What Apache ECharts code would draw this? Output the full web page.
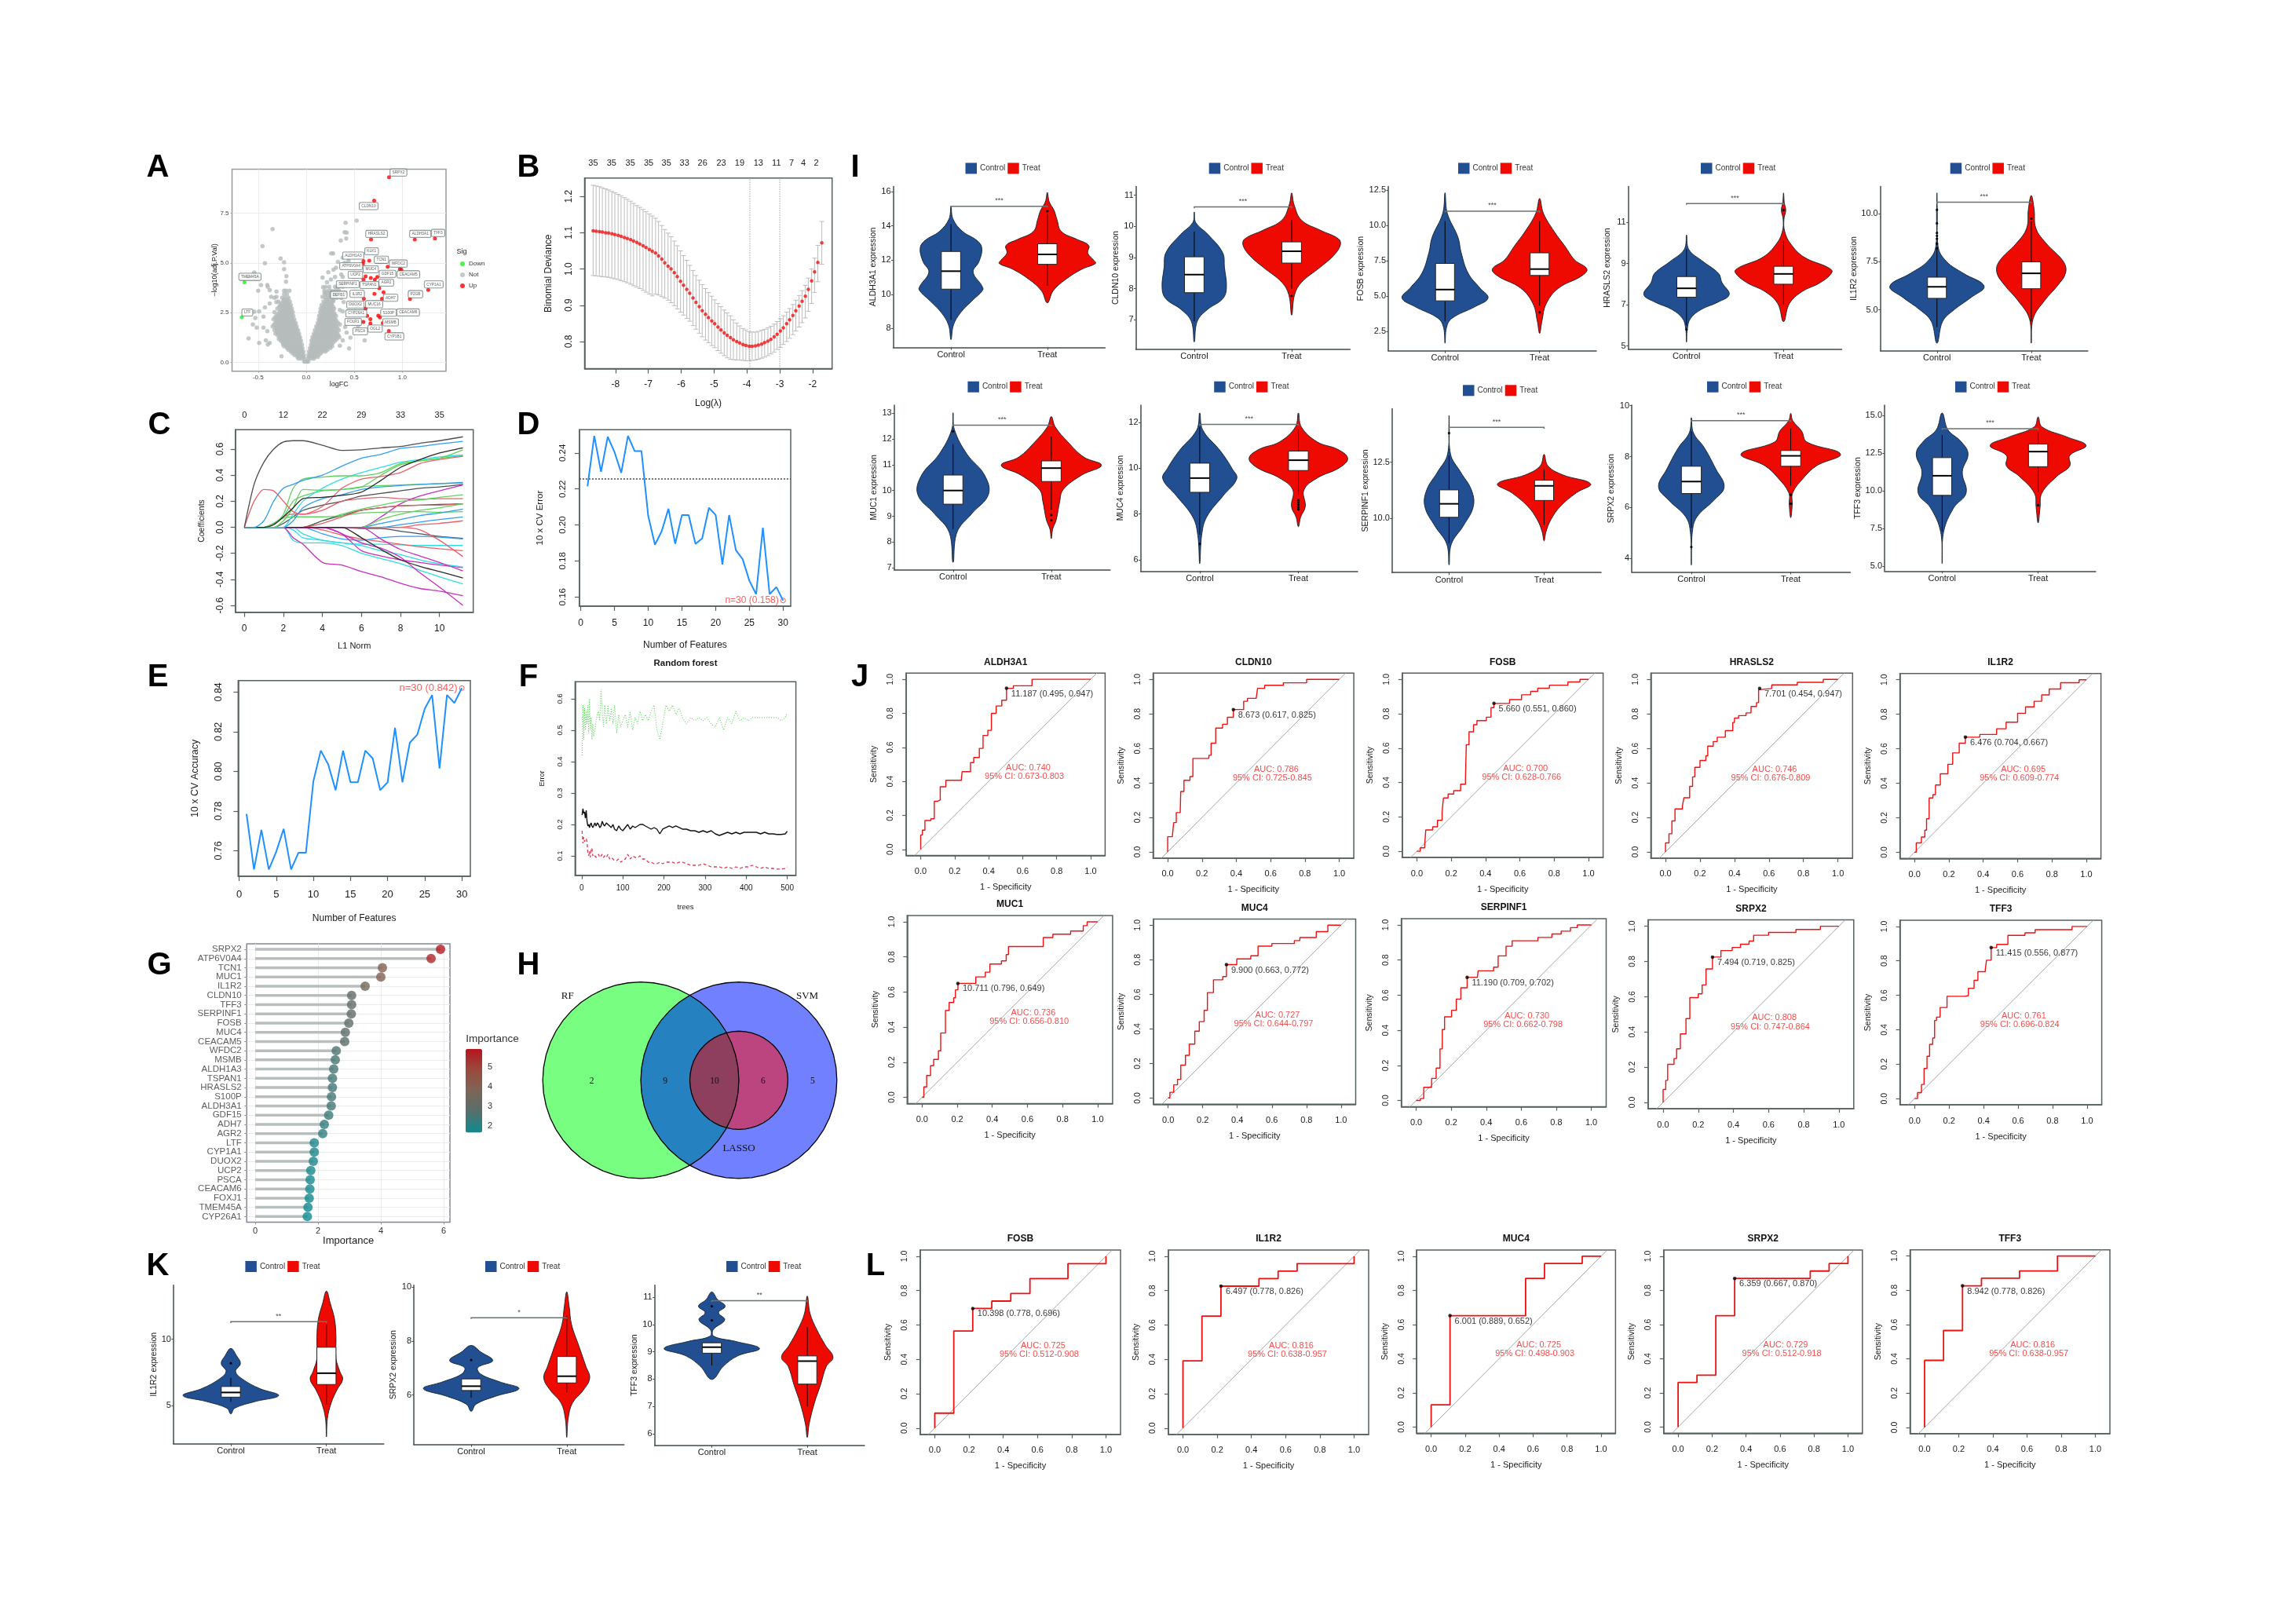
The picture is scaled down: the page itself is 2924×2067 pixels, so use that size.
<!DOCTYPE html>
<html><head><meta charset="utf-8">
<style>html,body{margin:0;padding:0;background:#fff}#c{width:2924px;height:2067px}</style>
<script src="https://cdn.jsdelivr.net/npm/echarts@6/dist/echarts.min.js"></script>
</head><body><div id="c"></div>
<script>
/* ===== DATA: volcano (A) ===== */
const volcanoRowY=[0.04,0.18,0.36,0.54,0.72,0.9,1.08,1.26,1.44,1.62,1.8,1.98,2.16,2.34,2.52,2.7,2.88,3.06,3.24,3.42,3.6,3.8];
const volcanoLeftX=[[-.01,-.02],[-.02,-.05,-.08],[-.025,-.06,-.09,-.12],[-.03,-.065,-.1,-.13,-.16],[-.04,-.075,-.11,-.14,-.17,-.2],[-.045,-.08,-.115,-.15,-.185,-.22,-.24],[-.055,-.09,-.125,-.16,-.195,-.23,-.265],[-.065,-.1,-.135,-.17,-.205,-.24,-.275],[-.075,-.11,-.145,-.18,-.215,-.25,-.285,-.32],[-.085,-.12,-.155,-.19,-.225,-.26,-.295,-.33],[-.1,-.135,-.17,-.205,-.24,-.275,-.31,-.35],[-.11,-.145,-.18,-.215,-.25,-.285,-.32],[-.125,-.16,-.195,-.23,-.265,-.3,-.34],[-.135,-.17,-.205,-.24,-.275,-.31],[-.14,-.175,-.21,-.245,-.28,-.33],[-.15,-.185,-.22,-.255,-.3],[-.16,-.195,-.23,-.27],[-.17,-.205,-.24,-.29],[-.185,-.22,-.25,-.33],[-.2,-.23],[-.21,-.23],[]];
const volcanoRightX=[[.01,.02],[.02,.05,.08],[.025,.06,.095,.13],[.03,.065,.1,.135,.17,.2],[.04,.075,.11,.145,.18,.215,.25],[.05,.085,.12,.155,.19,.225,.26],[.055,.09,.125,.16,.195,.23,.265,.3],[.065,.1,.135,.17,.205,.24,.275,.31,.345],[.08,.115,.15,.185,.22,.255,.29,.325],[.09,.125,.16,.195,.23,.265,.3,.34],[.105,.14,.175,.21,.245,.28,.315],[.12,.155,.19,.225,.26,.295,.33],[.13,.165,.2,.235,.27,.305],[.135,.17,.205,.24,.275,.31],[.145,.18,.215,.25,.285],[.15,.185,.22,.255,.29],[.16,.195,.23,.265],[.18,.215,.25,.28],[.2,.235,.27,.32],[.2,.24,.27,.31],[.19,.23,.26,.3,.34],[.2,.24,.3,.34,.38]];
const volcanoMidY=[.27,.45,.63,.81,.99,1.17,1.35,1.53,1.71,1.89,2.07,2.25,2.43,2.61,2.79,2.97,3.15,3.33,3.51];
const volcanoMidLeftX=[[-.03,-.06,-.09],[-.04,-.075,-.11,-.14],[-.05,-.085,-.12,-.155,-.185],[-.06,-.095,-.13,-.165,-.2,-.23],[-.07,-.105,-.14,-.175,-.21,-.245],[-.07,-.11,-.145,-.18,-.215,-.25,-.285],[-.08,-.12,-.155,-.19,-.225,-.26,-.295],[-.095,-.13,-.165,-.2,-.235,-.27,-.305],[-.105,-.14,-.175,-.21,-.245,-.28,-.315],[-.12,-.155,-.19,-.225,-.26,-.295,-.335],[-.135,-.17,-.205,-.24,-.275,-.31],[-.15,-.185,-.22,-.255,-.29,-.325],[-.155,-.19,-.225,-.26,-.295],[-.16,-.195,-.23,-.265],[-.17,-.205,-.24,-.28],[-.185,-.22,-.26],[-.195,-.23],[],[]];
const volcanoMidRightX=[[.03,.06,.09,.12],[.04,.08,.115,.15],[.05,.085,.12,.155,.19,.22],[.06,.095,.13,.165,.2,.235,.27],[.07,.105,.14,.175,.21,.245,.28],[.075,.11,.145,.18,.215,.25,.285,.32],[.09,.125,.16,.195,.23,.265,.3,.335],[.105,.14,.175,.21,.245,.28,.315],[.115,.15,.185,.22,.255,.29,.325],[.13,.165,.2,.235,.27,.305],[.14,.175,.21,.245,.28,.315],[.15,.185,.22,.255,.29],[.155,.19,.225,.26,.295],[.165,.2,.235,.27],[.175,.21,.245,.28],[.195,.23,.265],[.21,.245,.285],[.22,.255,.295],[.215,.25,.285,.325]];
const volcanoSparse=[[-.405,3.89],[-.38,3.63],[-.31,3.56],[-.175,3.6],[-.365,3.29],[-.31,3.29],[-.38,2.96],[-.31,3.03],[-.43,2.76],[-.49,2.56],[-.54,2.54],[-.53,2.23],[-.445,2.3],[-.555,1.9],[-.515,1.74],[-.445,1.74],[-.405,1.57],[-.6,1.2],[-.49,.97],[-.42,1.1],[-.38,.97],[-.4,.9],[-.257,.3],[-.23,5.03],[-.23,4.69],[-.206,4.33],[-.21,4.05],[-.43,4.98],[-.35,6.7],[-.455,5.84],[-.267,5.22],[-.54,4.52],[-.6,4.3],[-.5,4.3],[-.47,3.89],[-.4,3.8],[-.5,3.6],
[.17,3.29],[.19,3.49],[.176,3.78],[.216,4.02],[.257,4.16],[.3,4.29],[.17,4.26],[.23,4.53],[.284,4.66],[.31,4.75],[.365,4.42],[.38,4.29],[.39,3.96],[.324,3.76],[.405,3.49],[.365,3.23],[.39,3.03],[.35,2.63],[.38,2.56],[.35,1.9],[.38,1.1],[.35,.84],[.446,.7],[.608,1.1],[.46,1.24],[.42,1.5],[.405,1.77],[.54,1.83],[.527,2.83],[.48,2.96],[.28,5.48],[.26,5.48],[.38,5.26],[.416,6.23],[.36,6.13],[.4,6.54],[.42,6.52],[.41,7.02],[.525,7.12],[.44,5.1],[.4,5],[.33,5.05]];
const volcanoUpNames=['SRPX2','CLDN10','HRASLS2','ALDH3A1','TFF3','ALDH1A3','KLK1','TCN1','WFDC2','CEACAM5','ATP6V0A4','MUC4','UCP2','GDF15','SERPINF1','TSPAN1','AGR2','CYP1A1','P2GB','IL1R2','ADH7','MUC16','DEFB1','DUOX2','S100P','CEACAM6','CYP26A1','FOLR1','PSCA','OGL2','MSMB','CYP1B1'];
const volcanoUpFC=[.862,.707,.675,1.13,1.34,.596,.656,.848,.975,.99,.59,.672,.618,.74,.596,.714,.76,1.27,1.08,.71,.805,.789,.6,.618,.767,.75,.635,.595,.668,.668,.797,.86];
const volcanoUpP=[9.31,8.13,6.18,6.18,6.23,5.09,5.11,4.8,4.69,4.66,4.95,4.24,4.32,4.29,4.16,4.16,3.73,3.64,3.19,3.44,3.52,3.2,3.2,2.7,2.26,2.35,2.34,2.03,1.95,2.17,1.97,1.58];
const volcanoDownNames=['TMEM45A','LTF'];
const volcanoDownFC=[-.643,-.67];
const volcanoDownP=[4.02,2.27];
/* ===== DATA: LASSO CV (B) ===== */
const lassoLambda=[-8.68,-8.59,-8.49,-8.40,-8.30,-8.21,-8.11,-8.02,-7.92,-7.83,-7.73,-7.64,-7.54,-7.45,-7.35,-7.26,-7.16,-7.07,-6.97,-6.88,-6.78,-6.69,-6.59,-6.50,-6.40,-6.31,-6.21,-6.12,-6.02,-5.93,-5.83,-5.74,-5.64,-5.55,-5.45,-5.36,-5.26,-5.17,-5.07,-4.98,-4.88,-4.79,-4.69,-4.60,-4.50,-4.41,-4.31,-4.22,-4.12,-4.03,-3.93,-3.84,-3.74,-3.65,-3.55,-3.46,-3.36,-3.27,-3.17,-3.08,-2.98,-2.89,-2.79,-2.70,-2.60,-2.51,-2.41,-2.32,-2.22,-2.13,-2.03,-1.94,-1.84,-1.72];
const lassoDev=[1.105,1.104,1.103,1.102,1.100,1.099,1.097,1.095,1.093,1.090,1.087,1.084,1.081,1.077,1.073,1.069,1.064,1.059,1.054,1.049,1.044,1.036,1.027,1.017,1.008,1.000,.990,.979,.966,.955,.944,.933,.920,.908,.896,.885,.875,.866,.857,.849,.840,.832,.824,.817,.811,.805,.800,.796,.792,.789,.787,.787,.788,.790,.793,.797,.801,.806,.813,.820,.829,.838,.849,.860,.872,.885,.898,.911,.925,.944,.967,.992,1.018,1.072];
const lassoHi=[1.231,1.229,1.227,1.224,1.221,1.218,1.214,1.210,1.206,1.202,1.197,1.192,1.187,1.181,1.175,1.170,1.164,1.158,1.152,1.146,1.140,1.131,1.120,1.109,1.099,1.089,1.077,1.064,1.05,1.037,1.024,1.010,.996,.982,.969,.957,.946,.935,.925,.915,.905,.896,.887,.879,.871,.860,.851,.843,.836,.832,.827,.826,.826,.828,.831,.834,.838,.842,.848,.855,.863,.871,.881,.891,.902,.914,.927,.940,.955,.975,1.000,1.030,1.065,1.131];
const lassoLo=[.982,.981,.980,.979,.978,.977,.975,.973,.971,.968,.965,.962,.958,.954,.950,.946,.941,.936,.931,.926,.931,.928,.924,.920,.914,.907,.899,.890,.881,.873,.864,.856,.844,.834,.823,.813,.804,.797,.789,.783,.775,.768,.761,.755,.751,.750,.749,.749,.748,.747,.747,.748,.749,.751,.754,.757,.761,.766,.771,.778,.784,.792,.800,.809,.819,.829,.840,.852,.865,.883,.905,.935,.965,1.013];
const lassoTopPos=[-8.68,-8.12,-7.55,-6.99,-6.45,-5.9,-5.35,-4.78,-4.22,-3.65,-3.1,-2.64,-2.28,-1.89];
const lassoTopLabels=['35','35','35','35','35','33','26','23','19','13','11','7','4','2'];
const lassoVLines=[-3.91,-3];
/* ===== DATA: LASSO paths (C) ===== */
const pathX=[0,.5,1,1.5,2,2.5,3,4,5,6,7,8,9,10,11.2];
const pathK1=[0,.33,.5,.6,.655,.665,.665,.63,.59,.595,.61,.62,.645,.665,.695];
const pathB1=[0,0,.05,.2,.3,.33,.36,.4,.47,.53,.56,.605,.62,.64,.66];
const pathK2=[0,0,0,.02,.08,.15,.22,.23,.245,.27,.36,.46,.52,.57,.61];
const pathR1=[0,.2,.29,.28,.2,.12,.1,.16,.3,.37,.39,.42,.49,.52,.545];
const pathG1=[0,0,0,.02,.1,.3,.37,.385,.395,.395,.42,.49,.51,.53,.595];
const pathG2=[0,0,0,0,.05,.15,.29,.285,.29,.31,.4,.48,.51,.53,.55];
const pathC1=[0,0,0,0,0,.1,.2,.3,.37,.42,.46,.5,.52,.54,.555];
const pathG3=[0,0,0,.03,.08,.2,.24,.28,.29,.31,.32,.325,.33,.335,.34];
const pathB2=[0,0,0,0,0,.05,.15,.22,.25,.29,.31,.32,.33,.335,.345];
const pathK3=[0,0,0,0,.03,.08,.13,.17,.2,.24,.26,.28,.3,.31,.33];
const pathR2=[0,0,0,.03,.08,.1,.1,.13,.2,.22,.23,.22,.215,.22,.22];
const pathM1=[0,0,0,0,0,0,0,0,0,0,.08,.18,.24,.28,.325];
const pathG4=[0,0,0,0,0,0,0,.05,.1,.14,.17,.2,.21,.23,.25];
const pathK4=[0,0,0,0,0,0,0,.05,.09,.13,.15,.165,.17,.175,.18];
const pathG5=[0,0,0,.03,.07,.08,.08,.08,.09,.11,.115,.12,.12,.115,.12];
const pathR3=[0,0,0,0,0,0,0,.03,.08,.13,.15,.165,.17,.17,.18];
const pathB3=[0,0,0,0,0,0,0,0,0,0,.03,.06,.09,.11,.14];
const pathG6=[0,0,0,0,0,0,0,0,0,0,.06,.1,.13,.15,.18];
const pathB4=[0,0,0,0,0,0,0,0,0,0,0,.02,.04,.06,.08];
const pathR4=[0,0,0,0,0,0,0,0,0,0,0,0,.02,.03,.05];
const pathK5=[0,0,0,0,0,0,0,0,0,-.01,-.01,-.03,-.05,-.07,-.085];
const pathB5=[0,0,0,0,0,0,0,-.05,-.09,-.1,-.08,-.07,-.07,-.075,-.09];
const pathC2=[0,0,0,0,0,-.02,-.08,-.1,-.12,-.13,-.13,-.135,-.14,-.14,-.14];
const pathR5=[0,0,0,0,0,0,0,-.02,-.06,-.09,-.11,-.13,-.15,-.165,-.18];
const pathR6=[0,0,0,0,0,0,0,0,0,0,0,0,-.02,-.1,-.225];
const pathK6=[0,0,0,0,0,0,0,0,0,-.08,-.17,-.25,-.3,-.34,-.39];
const pathM2=[0,0,0,0,0,0,0,0,-.05,-.18,-.22,-.25,-.27,-.29,-.31];
const pathC3=[0,0,0,0,0,0,-.05,-.1,-.12,-.14,-.18,-.21,-.25,-.28,-.305];
const pathM3=[0,0,0,0,0,0,0,0,0,0,-.09,-.17,-.22,-.27,-.335];
const pathC4=[0,0,0,0,0,-.1,-.12,-.12,-.14,-.2,-.24,-.28,-.33,-.38,-.435];
const pathM4=[0,0,0,0,0,-.08,-.13,-.27,-.29,-.34,-.38,-.43,-.47,-.49,-.525];
const pathM5=[0,0,0,0,0,0,0,0,-.05,-.12,-.16,-.23,-.35,-.46,-.6];
const pathTopPos=[0,2,4,6,8,10];
const pathTopLabels=['0','12','22','29','33','35'];
/* ===== DATA: RFE-SVM (D, E) ===== */
const nFeatures=[1,2,3,4,5,6,7,8,9,10,11,12,13,14,15,16,17,18,19,20,21,22,23,24,25,26,27,28,29,30];
const cvError=[.2215,.2495,.2295,.249,.2405,.229,.2495,.241,.241,.205,.189,.1965,.209,.1895,.2055,.2055,.1895,.1925,.2095,.2055,.178,.2055,.186,.181,.169,.1615,.1985,.1615,.1655,.158];
const cvErrorCut=.2255;
const cvAccuracy=[.7785,.7505,.7705,.7505,.7595,.771,.7505,.759,.759,.795,.8105,.8035,.7905,.8105,.7945,.7945,.8105,.8065,.7905,.7945,.822,.7945,.8145,.8185,.8315,.8385,.8015,.8385,.8345,.842];
/* ===== DATA: random forest (F) ===== */
const rfTrees=[1,3,5,7,9,11,13,15,17,19,21,23,25,27,29,32,35,38,41,44,47,50,53,56,60,64,68,72,76,80,85,90,95,100,106,112,118,124,130,136,142,148,155,162,169,176,183,190,197,205,213,221,229,237,245,255,265,275,285,295,305,315,325,335,345,355,365,375,385,395,405,415,425,435,445,455,465,475,485,495,500];
const rfOOB=[.23,.25,.235,.24,.22,.245,.21,.195,.2,.19,.2,.205,.195,.19,.195,.205,.195,.205,.2,.19,.195,.21,.2,.195,.205,.2,.195,.19,.2,.185,.18,.195,.185,.18,.19,.2,.185,.195,.19,.195,.2,.2,.195,.19,.185,.19,.185,.17,.185,.19,.195,.19,.195,.19,.185,.185,.18,.18,.175,.18,.175,.18,.17,.165,.17,.175,.17,.175,.17,.175,.175,.175,.175,.17,.175,.17,.17,.168,.168,.17,.178];
const rfTreat=[.18,.14,.16,.145,.15,.155,.145,.11,.1,.115,.095,.12,.125,.1,.105,.1,.095,.1,.105,.095,.1,.105,.095,.1,.095,.105,.09,.095,.09,.085,.085,.09,.08,.085,.09,.105,.09,.1,.095,.095,.1,.09,.09,.08,.08,.075,.075,.08,.075,.08,.08,.08,.075,.08,.08,.075,.07,.07,.07,.075,.07,.065,.065,.065,.06,.065,.06,.065,.06,.065,.065,.07,.065,.06,.065,.06,.06,.058,.058,.06,.065];
const rfControl=[.42,.58,.47,.57,.5,.56,.52,.58,.49,.6,.5,.54,.47,.52,.48,.5,.53,.55,.56,.53,.63,.56,.51,.58,.52,.58,.53,.57,.52,.58,.49,.55,.51,.53,.55,.51,.56,.5,.54,.52,.56,.53,.55,.53,.56,.58,.5,.47,.52,.58,.56,.58,.55,.57,.54,.52,.54,.53,.54,.53,.54,.52,.51,.54,.5,.54,.52,.56,.53,.54,.53,.54,.54,.54,.54,.54,.54,.54,.53,.54,.555];
/* ===== DATA: importance (G) ===== */
const impGenes=['SRPX2','ATP6V0A4','TCN1','MUC1','IL1R2','CLDN10','TFF3','SERPINF1','FOSB','MUC4','CEACAM5','WFDC2','MSMB','ALDH1A3','TSPAN1','HRASLS2','S100P','ALDH3A1','GDF15','ADH7','AGR2','LTF','CYP1A1','DUOX2','UCP2','PSCA','CEACAM6','FOXJ1','TMEM45A','CYP26A1'];
const impValues=[5.9,5.6,4.05,4.0,3.5,3.07,3.07,3.06,2.98,2.87,2.85,2.58,2.55,2.5,2.46,2.46,2.43,2.42,2.34,2.2,2.15,1.88,1.88,1.85,1.77,1.75,1.74,1.72,1.68,1.66];
/* ===== DATA: Venn (H) ===== */
const vennRF=[0,0,1], vennSVM=[1,0,1], vennLASSO=[1,0,.5];
const vennCounts=['2','9','10','6','5'];
/* ===== DATA: violins (I, K): [expression, half width] ===== */
const groupNames=['Control','Treat'];
const ALDH3A1C=[[15.16,0],[14.4,.02],[13.67,.12],[13.14,.27],[12.7,.32],[11.9,.29],[11.3,.23],[10.5,.32],[10.25,.33],[9.63,.22],[8.93,.1],[8.2,.025],[7.35,0]];
const ALDH3A1T=[[15.95,0],[15.4,.02],[14.9,.07],[14.37,.1],[13.67,.145],[13.2,.31],[12.85,.43],[12.4,.42],[12,.48],[11.8,.5],[11.47,.36],[10.87,.19],[10.2,.06],[9.5,0]];
const CLDN10C=[[10.46,0],[10.12,.015],[9.74,.14],[9.16,.29],[8.68,.31],[8.01,.33],[7.67,.29],[7.33,.135],[6.95,.03],[6.29,0]];
const CLDN10T=[[11.07,0],[10.7,.024],[10.2,.1],[9.88,.29],[9.6,.48],[9.4,.5],[9.06,.43],[8.68,.29],[8.2,.1],[7.81,.03],[7.15,0]];
const FOSBC=[[12.3,0],[10.85,.024],[9.15,.137],[8.08,.17],[6.6,.245],[5.55,.37],[4.85,.455],[4.25,.32],[3.4,.07],[2.75,.015],[1.65,0]];
const FOSBT=[[11.9,0],[10.85,.04],[9.55,.155],[8.5,.27],[7.55,.37],[6.9,.5],[6.4,.44],[5.55,.2],[4.45,.07],[3.2,.024],[2.35,0]];
const HRASLS2C=[[10.39,0],[9.69,.023],[9.1,.17],[8.52,.33],[8.08,.365],[7.5,.44],[7.13,.325],[6.77,.15],[6.33,.04],[5.82,.008],[5.19,0]];
const HRASLS2T=[[12.43,0],[11.95,.008],[11.6,.023],[11.15,.004],[10.56,.012],[9.98,.07],[9.32,.21],[8.81,.46],[8.59,.5],[8.08,.38],[7.64,.19],[7.06,.06],[6.18,0]];
const IL1R2C=[[11.08,0],[8.3,.012],[7.52,.1],[6.9,.28],[6.23,.5],[5.64,.36],[5,.18],[4.4,.06],[3.27,0]];
const IL1R2T=[[10.95,0],[10.25,.03],[9.23,.05],[8.45,.16],[7.52,.34],[6.94,.365],[6.27,.28],[5.48,.14],[4.55,.02],[3.27,0]];
const MUC1C=[[13.02,0],[12.36,.014],[11.42,.14],[10.6,.32],[9.85,.36],[9.1,.19],[8.38,.04],[7.21,0]];
const MUC1T=[[12.87,0],[12.47,.04],[11.9,.165],[11.3,.33],[10.98,.51],[10.6,.31],[10.03,.12],[9.56,.085],[8.86,.05],[8.5,.014],[8.13,0]];
const MUC4C=[[12.41,0],[11.67,.03],[10.75,.21],[9.97,.33],[9.54,.375],[8.79,.235],[7.87,.07],[7.09,.02],[5.84,0]];
const MUC4T=[[12.41,0],[11.8,.03],[11.15,.19],[10.82,.4],[10.43,.5],[10.03,.42],[9.57,.19],[9.05,.056],[8.33,.07],[7.87,.023],[7.45,0]];
const SERPINF1C=[[14.58,0],[12.87,.015],[12.07,.12],[11.27,.235],[10.53,.255],[9.67,.15],[8.86,.024],[7.93,0]];
const SERPINF1T=[[12.85,0],[12.34,.04],[11.94,.195],[11.54,.49],[11.14,.34],[10.53,.17],[9.93,.07],[9.4,.02],[9,0]];
const SRPX2C=[[9.53,0],[8.94,.02],[8.35,.13],[7.52,.245],[6.81,.33],[6.28,.225],[5.63,.056],[5.04,.01],[3.74,0]];
const SRPX2T=[[9.7,0],[9.41,.02],[9,.11],[8.58,.16],[8.1,.5],[7.64,.26],[7.17,.13],[6.58,.02],[6.1,.015],[5.6,0]];
const TFF3C=[[15.16,0],[14.05,.06],[13.25,.2],[12.45,.27],[11.25,.21],[9.86,.25],[8.87,.12],[7.27,.015],[5.18,0]];
const TFF3T=[[14.9,0],[14.24,.04],[13.55,.31],[13,.5],[12.35,.33],[11.65,.33],[10.96,.195],[9.86,.04],[8.87,.02],[7.87,0]];
const kIL1R2C=[[9.31,0],[8.76,.06],[8.17,.1],[7.58,.05],[6.99,.125],[6.3,.3],[5.77,.5],[5.31,.25],[4.82,.04],[4.39,0]];
const kIL1R2T=[[13.62,0],[12.7,.04],[11.5,.085],[10.14,.1],[8.56,.1],[7.58,.14],[6.99,.17],[6.2,.11],[5.22,.05],[4.04,.01],[2.66,0]];
const kSRPX2C=[[7.84,0],[7.6,.1],[7.28,.225],[7.02,.07],[6.78,.1],[6.49,.3],[6.24,.5],[5.95,.25],[5.66,.05],[5.4,0]];
const kSRPX2T=[[9.83,0],[9.3,.025],[8.62,.05],[7.84,.125],[7.07,.2],[6.63,.24],[6.19,.175],[5.71,.06],[5.13,.015],[4.43,0]];
const kTFF3C=[[11.19,0],[10.91,.06],[10.67,.14],[10.43,.07],[10.17,.135],[9.81,.015],[9.57,.02],[9.38,.25],[9.12,.5],[8.85,.27],[8.47,.12],[7.99,0]];
const kTFF3T=[[11.04,0],[10.39,.03],[9.81,.1],[9.24,.19],[8.8,.27],[8.47,.2],[7.8,.14],[7.13,.075],[6.37,.02],[5.87,0]];
/* boxes: [low whisker, q1, median, q3, high whisker] */
const boxALDH3A1=[[8.5,10.3,11.35,12.5,14.1],[10.5,11.75,12.33,12.95,14.7]];
const boxCLDN10=[[6.95,7.87,8.45,9.02,9.83],[8,8.82,9.2,9.5,10.2]];
const boxFOSB=[[3.2,4.65,5.45,7.3,10.3],[4.3,6.45,6.9,8.05,10.3]];
const boxHRASLS2=[[6,7.37,7.8,8.37,9.7],[7,8,8.5,8.87,10.1]];
const boxIL1R2=[[4.1,5.6,6.2,6.7,8.2],[4.4,6.1,6.9,7.5,9.6]];
const boxMUC1=[[8.5,9.47,10,10.6,11.8],[9.25,10.35,10.87,11.15,12.1]];
const boxMUC4=[[7.1,8.95,9.57,10.22,11.8],[8.85,9.9,10.35,10.75,11.7]];
const boxSERPINF1=[[8.9,10.05,10.65,11.27,12.8],[9.7,10.8,11.45,11.7,12.2]];
const boxSRPX2=[[5.2,6.55,7.02,7.62,9],[6.85,7.62,8.03,8.24,9.1]];
const boxTFF3=[[7.3,9.7,11,12.2,13.7],[9.9,11.6,12.6,13.1,13.9]];
const boxKIL1R2=[[5.3,5.65,6,6.45,7.1],[5.1,6.6,7.45,9.4,11.1]];
const boxKSRPX2=[[5.9,6.17,6.33,6.6,6.6],[6.1,6.45,6.7,7.43,8.95]];
const boxKTFF3=[[8.5,8.95,9.17,9.33,9.35],[7,7.82,8.66,8.85,9.9]];
const outALDH3A1=[[],[14.85]], outCLDN10=[[],[7.77]], outFOSB=[[],[3.85]], outHRASLS2=[[5.8],[11.6]];
const outIL1R2=[[10.2,9.5,9,8.85,8.7,8.45,8.2],[9.75]], outMUC1=[[12.3],[9.05,8.85]], outMUC4=[[6.7],[8.6,8.5,8.4,8.3,8.2]];
const outSERPINF1=[[13.8],[]], outSRPX2=[[4.45],[6.5,6.15]], outTFF3=[[],[9.05]];
const outKIL1R2=[[8.2],[]], outKSRPX2=[[7.3],[]], outKTFF3=[[10.67,10.15],[]];
/* ===== DATA: ROC curves (J) ===== */
const rocALDH3A1=[[0,0],[0,.085],[.01,.113],[.025,.17],[.06,.18],[.08,.283],[.1,.29],[.115,.368],[.148,.406],[.24,.42],[.244,.457],[.293,.51],[.312,.54],[.345,.594],[.367,.67],[.395,.7],[.416,.8],[.444,.843],[.477,.877],[.505,.947],[.545,.962],[.655,1],[1,1]];
const rocCLDN10=[[0,0],[0,.088],[.027,.088],[.035,.17],[.05,.228],[.073,.228],[.076,.35],[.095,.415],[.13,.437],[.147,.542],[.24,.56],[.253,.63],[.28,.718],[.32,.74],[.348,.78],[.383,.825],[.443,.873],[.465,.89],[.516,.897],[.524,.948],[.565,.966],[.674,.98],[.81,1],[1,1]];
const rocFOSB=[[0,0],[.02,.02],[.046,.04],[.052,.124],[.092,.142],[.12,.18],[.147,.227],[.155,.31],[.182,.333],[.215,.352],[.255,.39],[.283,.414],[.288,.62],[.304,.695],[.33,.736],[.35,.76],[.405,.78],[.432,.835],[.449,.86],[.54,.882],[.61,.91],[.663,.93],[.704,.948],[.772,.966],[.88,.985],[.95,1],[1,1]];
const rocHRASLS2=[[0,0],[0,.052],[.02,.105],[.037,.18],[.055,.249],[.098,.267],[.107,.314],[.14,.38],[.157,.435],[.17,.49],[.2,.53],[.234,.557],[.245,.613],[.277,.64],[.3,.665],[.347,.703],[.39,.75],[.4,.776],[.424,.79],[.467,.806],[.496,.843],[.528,.865],[.54,.94],[.546,.947],[.616,.968],[.764,.983],[.915,1],[1,1]];
const rocIL1R2=[[0,0],[.01,.054],[.04,.088],[.06,.128],[.07,.194],[.085,.315],[.107,.334],[.122,.39],[.15,.455],[.194,.51],[.222,.576],[.26,.632],[.296,.667],[.38,.683],[.478,.716],[.533,.754],[.6,.806],[.646,.843],[.696,.875],[.74,.912],[.784,.946],[.85,.983],[.958,1],[1,1]];
const rocMUC1=[[0,0],[.01,.059],[.026,.124],[.048,.18],[.066,.216],[.093,.265],[.106,.366],[.133,.494],[.154,.54],[.18,.567],[.19,.612],[.204,.649],[.306,.686],[.36,.713],[.386,.759],[.452,.777],[.479,.813],[.492,.859],[.69,.91],[.745,.929],[.846,.947],[.918,.978],[.94,1],[1,1]];
const rocMUC4=[[0,0],[.01,.033],[.032,.076],[.054,.108],[.073,.19],[.1,.247],[.122,.312],[.154,.387],[.18,.442],[.208,.507],[.227,.61],[.262,.684],[.316,.703],[.337,.772],[.397,.805],[.478,.823],[.52,.879],[.6,.894],[.73,.911],[.762,.929],[.857,.963],[.924,1],[1,1]];
const rocSERPINF1=[[0,0],[.024,.011],[.043,.075],[.088,.126],[.114,.185],[.136,.294],[.149,.404],[.162,.477],[.202,.514],[.229,.578],[.255,.642],[.291,.702],[.349,.706],[.354,.739],[.442,.76],[.468,.824],[.513,.879],[.548,.91],[.668,.91],[.695,.929],[.775,.949],[.828,.965],[.881,.985],[.92,1],[1,1]];
const rocSRPX2=[[0,0],[0,.073],[.015,.125],[.026,.216],[.062,.249],[.077,.304],[.098,.389],[.13,.476],[.152,.595],[.2,.616],[.222,.667],[.244,.758],[.281,.825],[.329,.862],[.393,.88],[.44,.898],[.489,.916],[.515,.949],[.6,.965],[.756,.982],[.895,1],[1,1]];
const rocTFF3=[[0,0],[.017,.035],[.04,.082],[.055,.175],[.072,.246],[.087,.315],[.105,.352],[.116,.454],[.127,.473],[.148,.529],[.188,.594],[.29,.598],[.312,.641],[.345,.687],[.367,.737],[.41,.752],[.417,.804],[.444,.877],[.476,.896],[.541,.948],[.64,.963],[.699,.981],[.913,1],[1,1]];
const jGenes=['ALDH3A1','CLDN10','FOSB','HRASLS2','IL1R2','MUC1','MUC4','SERPINF1','SRPX2','TFF3'];
const jCut=['11.187','8.673','5.660','7.701','6.476','10.711','9.900','11.190','7.494','11.415'];
const jSpec=[.495,.617,.551,.454,.704,.796,.663,.709,.719,.556];
const jSens=[.947,.825,.860,.947,.667,.649,.772,.702,.825,.877];
const jAuc=['0.740','0.786','0.700','0.746','0.695','0.736','0.727','0.730','0.808','0.761'];
const jCI=['0.673-0.803','0.725-0.845','0.628-0.766','0.676-0.809','0.609-0.774','0.656-0.810','0.644-0.797','0.662-0.798','0.747-0.864','0.696-0.824'];
/* ===== DATA: validation ROC (L) ===== */
const rocLFOSB=[[0,0],[0,.087],[.111,.087],[.111,.565],[.222,.565],[.222,.696],[.333,.696],[.333,.739],[.444,.739],[.444,.783],[.556,.783],[.556,.87],[.778,.87],[.778,.957],[1,.957],[1,1]];
const rocLIL1R2=[[0,0],[0,.391],[.111,.391],[.111,.652],[.222,.652],[.222,.826],[.444,.826],[.444,.87],[.556,.87],[.556,.913],[.667,.913],[.667,.957],[1,.957],[1,1]];
const rocLMUC4=[[0,0],[0,.13],[.111,.13],[.111,.652],[.556,.652],[.556,.87],[.667,.87],[.667,.957],[.889,.957],[.889,1],[1,1]];
const rocLSRPX2=[[0,0],[0,.261],[.111,.261],[.111,.304],[.222,.304],[.222,.652],[.333,.652],[.333,.87],[.778,.87],[.778,.913],[.889,.913],[.889,.957],[1,.957],[1,1]];
const rocLTFF3=[[0,0],[0,.391],[.111,.391],[.111,.565],[.222,.565],[.222,.826],[.333,.826],[.333,.87],[.556,.87],[.556,.913],[.778,.913],[.778,1],[1,1]];
const lGenes=['FOSB','IL1R2','MUC4','SRPX2','TFF3'];
const lCut=['10.398','6.497','6.001','6.359','8.942'];
const lSpec=[.778,.778,.889,.667,.778];
const lSens=[.696,.826,.652,.870,.826];
const lAuc=['0.725','0.816','0.725','0.729','0.816'];
const lCI=['0.512-0.908','0.638-0.957','0.498-0.903','0.512-0.918','0.638-0.957'];

/* ===== LAYOUT AND HELPERS ===== */
const FF='Liberation Sans', FRAME='#566060', TXT='#1a1a1a';
const grids=[],xAxes=[],yAxes=[],series=[],legends=[],graphics=[];
const dec=n=>v=>Number(v).toFixed(n);
function mkAxis(o,g,isX){
  return {gridIndex:g,type:'value',position:o.position||(isX?'bottom':'left'),min:o.range[0],max:o.range[1],inverse:!!o.inverse,
    name:o.name||'',nameLocation:'middle',nameGap:o.nameGap||0,nameRotate:isX?0:90,nameMoveOverlap:false,
    nameTextStyle:{fontFamily:FF,fontSize:o.nameFs||11,color:TXT},
    axisLine:{show:o.line!==false,onZero:false,lineStyle:{color:o.color||FRAME,width:o.lw||1.5}},
    axisTick:{show:o.tick!==false,length:o.tickLen||5,customValues:o.ticks,lineStyle:{color:o.color||FRAME,width:o.tw||1.2}},
    axisLabel:{show:o.label!==false,customValues:o.ticks,rotate:o.rot||0,margin:o.margin||4,fontSize:o.fs||11,fontFamily:FF,color:o.labelColor||TXT,formatter:o.fmt||(v=>String(v)),hideOverlap:false,showMinLabel:true,showMaxLabel:true},
    splitLine:{show:!!o.split,lineStyle:{color:'#ebebeb',width:1}},splitArea:{show:false},silent:true};
}
function addPanel(r,x,y,frame){
  const g=grids.length;
  grids.push({left:r[0],top:r[1],width:r[2]-r[0],height:r[3]-r[1],containLabel:false,outerBoundsMode:'none',show:!!frame,borderColor:frame||'transparent',borderWidth:1.5,backgroundColor:'transparent'});
  xAxes.push(mkAxis(x,g,true)); yAxes.push(mkAxis(y,g,false));
  return {xAxisIndex:xAxes.length-1,yAxisIndex:yAxes.length-1,g};
}
function addTopAxis(p,range,ticks,labels,margin,fs){
  xAxes.push({gridIndex:p.g,type:'value',position:'top',min:range[0],max:range[1],axisLine:{show:false,onZero:false},axisTick:{show:false,customValues:ticks},splitLine:{show:false},nameMoveOverlap:false,
    axisLabel:{customValues:ticks,margin:margin,fontSize:fs,fontFamily:FF,color:TXT,formatter:v=>labels[ticks.indexOf(v)],hideOverlap:false,showMinLabel:true,showMaxLabel:true}});
}
function text(x,y,s,o){o=o||{};
  graphics.push({type:'text',x:x,y:y,z:100,rotation:o.rot||0,silent:true,style:{text:s,fontFamily:o.ff||FF,fontSize:o.fs||11,fontWeight:o.w||'normal',fill:o.c||TXT,align:'center',verticalAlign:'middle'}});
}
function addLine(p,data,color,width,extra){
  series.push(Object.assign({type:'line',xAxisIndex:p.xAxisIndex,yAxisIndex:p.yAxisIndex,data:data,showSymbol:false,symbol:'none',silent:true,lineStyle:{color:color,width:width},itemStyle:{color:color}},extra||{}));
}
function labelPoint(p,x,y,str,color,fs,offset,extra){
  series.push(Object.assign({type:'scatter',xAxisIndex:p.xAxisIndex,yAxisIndex:p.yAxisIndex,symbolSize:1,silent:true,itemStyle:{color:'transparent'},
    data:[[x,y]],label:{show:true,formatter:str,position:'inside',offset:offset||[0,0],color:color,fontSize:fs,fontFamily:FF}},extra||{}));
}

/* panel letters */
[['A',201,214],['B',673,214],['I',1089,214],['C',203,542],['D',673,542],['E',201,863],['F',673,863],['J',1095,863],['G',203,1230],['H',673,1230],['K',201,1613],['L',1115,1613]]
  .forEach(l=>text(l[1],l[2],l[0],{fs:40,w:'bold',c:'#000'}));

/* ---- A volcano ---- */
(function(){
  const p=addPanel([295.5,215.5,568,472.7],
    {range:[-.772,1.455],ticks:[-.5,0,.5,1],fmt:dec(1),fs:8,margin:4,tickLen:2,split:true,color:'#888',lw:.1,tw:.8,labelColor:'#444',name:'logFC',nameGap:12,nameFs:9},
    {range:[-.445,9.71],ticks:[0,2.5,5,7.5],fmt:dec(1),fs:8,margin:4,tickLen:2,split:true,color:'#888',lw:.1,tw:.8,labelColor:'#444',name:'−log10(adj.P.Val)',nameGap:17,nameFs:9},'#98a0a0');
  const notPts=[];
  volcanoRowY.forEach((y,i)=>{volcanoLeftX[i].forEach(x=>notPts.push([x,y]));volcanoRightX[i].forEach(x=>notPts.push([x,y]));});
  volcanoMidY.forEach((y,i)=>{volcanoMidLeftX[i].forEach(x=>notPts.push([x,y]));volcanoMidRightX[i].forEach(x=>notPts.push([x,y]));});
  volcanoSparse.forEach(q=>notPts.push(q));
  const base={type:'scatter',xAxisIndex:p.xAxisIndex,yAxisIndex:p.yAxisIndex,silent:true};
  series.push(Object.assign({},base,{name:'Not',symbolSize:5.5,itemStyle:{color:'#b4baba'},data:notPts}));
  const box=(o)=>({show:true,position:'inside',offset:o,color:'#333',fontSize:4.8,fontFamily:FF,backgroundColor:'#fff',borderColor:'#5a6868',borderWidth:.8,borderRadius:1.5,padding:[2,2.5,1.5,2.5]});
  const upOff=[[12,-6],[-7,7],[7,-7],[7,-7],[4,-7],[-13,-7],[3,-12],[-8,-9],[-2,-7],[9,6],[-15,3],[0,-11],[-13,-2],[13,-4],[-20,6],[-7,7],[9,-7],[7,-7],[7,-6],[-22,0],[9,7],[-10,7],[-32,-5],[-13,-5],[11,-6],[38,-4],[-14,-3],[-13,0],[-13,10],[6,12],[10,-1],[7,7]];
  series.push(Object.assign({},base,{name:'Up',symbolSize:5,z:5,itemStyle:{color:'#ff0000'},
    data:volcanoUpNames.map((n,i)=>({value:[volcanoUpFC[i],volcanoUpP[i]],label:Object.assign(box(upOff[i]),{formatter:n})}))}));
  const dnOff=[[7,-7],[7,-6]];
  series.push(Object.assign({},base,{name:'Down',symbolSize:5,z:5,itemStyle:{color:'#22ee22'},
    data:volcanoDownNames.map((n,i)=>({value:[volcanoDownFC[i],volcanoDownP[i]],label:Object.assign(box(dnOff[i]),{formatter:n})}))}));
  legends.push({left:586,top:332,orient:'vertical',padding:0,itemGap:6,itemWidth:6,itemHeight:6,icon:'circle',selectedMode:false,data:['Down','Not','Up'],textStyle:{fontSize:8,fontFamily:FF,color:'#333'}});
  text(588,320.5,'Sig',{fs:9});
})();

/* ---- B LASSO CV ---- */
(function(){
  const xr=[-8.94,-1.406];
  const p=addPanel([744.5,226.8,1059.7,469.6],
    {range:xr,ticks:[-8,-7,-6,-5,-4,-3,-2],fs:12,margin:14,tickLen:6,name:'Log(λ)',nameGap:38,nameFs:12},
    {range:[.725,1.2507],ticks:[.8,.9,1,1.1,1.2],fmt:dec(1),fs:12,rot:90,margin:14,tickLen:6,name:'Binomial Deviance',nameGap:40,nameFs:12},FRAME);
  addTopAxis(p,xr,lassoTopPos,lassoTopLabels,13,11);
  lassoVLines.forEach(v=>addLine(p,[[v,.725],[v,1.2507]],'#777',1,{lineStyle:{color:'#777',width:1,type:[1,2]}}));
  series.push({type:'custom',xAxisIndex:p.xAxisIndex,yAxisIndex:p.yAxisIndex,silent:true,clip:false,
    data:lassoLambda.map((x,i)=>[x,lassoDev[i],lassoHi[i],lassoLo[i]]),
    renderItem:(params,api)=>{
      const a=api.coord([api.value(0),api.value(2)]),b=api.coord([api.value(0),api.value(3)]);
      const st={stroke:'#bcbcbc',lineWidth:1};
      return {type:'group',children:[
        {type:'line',shape:{x1:a[0],y1:a[1],x2:b[0],y2:b[1]},style:st},
        {type:'line',shape:{x1:a[0]-3,y1:a[1],x2:a[0]+3,y2:a[1]},style:st},
        {type:'line',shape:{x1:b[0]-3,y1:b[1],x2:b[0]+3,y2:b[1]},style:st}]};
    }});
  series.push({type:'scatter',xAxisIndex:p.xAxisIndex,yAxisIndex:p.yAxisIndex,silent:true,symbolSize:4.5,itemStyle:{color:'#f01010'},z:4,data:lassoLambda.map((x,i)=>[x,lassoDev[i]])});
})();

/* ---- C LASSO paths ---- */
(function(){
  const xr=[-.463,11.73];
  const p=addPanel([299.7,547.3,602.7,779.7],
    {range:xr,ticks:[0,2,4,6,8,10],fs:12,margin:15,tickLen:6,name:'L1 Norm',nameGap:38,nameFs:11},
    {range:[-.652,.749],ticks:[-.6,-.4,-.2,0,.2,.4,.6],fmt:dec(1),fs:12,rot:90,margin:13,tickLen:6,name:'Coefficients',nameGap:37,nameFs:10.5},FRAME);
  addTopAxis(p,xr,pathTopPos,pathTopLabels,13,11);
  const K='#2a2a2a',K2='#4f4f4f',R='#e8606e',G='#5fd25f',B='#2f9fee',C='#30dce5',M='#c92fbf';
  [[pathK3,K2],[pathR2,R],[pathM1,M],[pathG4,G],[pathK4,K2],[pathG5,G],[pathR3,R],[pathB3,B],[pathG6,G],[pathB4,B],[pathR4,R],[pathK5,K2],[pathB5,B],[pathC2,C],[pathR5,R],[pathR6,R],[pathM2,M],[pathC3,C],[pathM3,M],[pathC4,C],[pathM4,M],[pathM5,M],[pathK6,K],[pathG3,G],[pathB2,B],[pathG2,G],[pathC1,C],[pathG1,G],[pathR1,R],[pathK2,K],[pathB1,B],[pathK1,K2]]
   .forEach(l=>addLine(p,pathX.map((x,i)=>[x,l[0][i]]),l[1],1.3,{smooth:.25}));
})();

/* ---- D ---- */
(function(){
  const p=addPanel([737.9,547.3,1007,771.9],
    {range:[-.2,31.13],ticks:[0,5,10,15,20,25,30],fs:12,margin:16,tickLen:6,name:'Number of Features',nameGap:44,nameFs:12},
    {range:[.1549,.2529],ticks:[.16,.18,.2,.22,.24],fmt:dec(2),fs:11.5,rot:90,margin:15,tickLen:6,name:'10 x CV Error',nameGap:44,nameFs:11.5},FRAME);
  addLine(p,[[-.2,cvErrorCut],[31.13,cvErrorCut]],'#444',1.5,{lineStyle:{color:'#444',width:1.5,type:[2,2]}});
  addLine(p,nFeatures.map((x,i)=>[x,cvError[i]]),'#1e90ff',2);
  series.push({type:'scatter',xAxisIndex:p.xAxisIndex,yAxisIndex:p.yAxisIndex,silent:true,symbol:'circle',symbolSize:6,itemStyle:{color:'transparent',borderColor:'#f33',borderWidth:1},
    data:[[30,.158]],label:{show:true,formatter:'n=30 (0.158)',position:'left',distance:2,color:'#f33',fontSize:12,fontFamily:FF}});
})();

/* ---- E ---- */
(function(){
  const p=addPanel([303.3,866.7,599,1116],
    {range:[-.13,31.15],ticks:[0,5,10,15,20,25,30],fs:13,margin:17,tickLen:6,name:'Number of Features',nameGap:48,nameFs:12},
    {range:[.7471,.8458],ticks:[.76,.78,.8,.82,.84],fmt:dec(2),fs:12.5,rot:90,margin:18,tickLen:6,name:'10 x CV Accuracy',nameGap:48,nameFs:12.5},FRAME);
  addLine(p,nFeatures.map((x,i)=>[x,cvAccuracy[i]]),'#1e90ff',2);
  series.push({type:'scatter',xAxisIndex:p.xAxisIndex,yAxisIndex:p.yAxisIndex,silent:true,symbol:'circle',symbolSize:6,itemStyle:{color:'transparent',borderColor:'#f33',borderWidth:1},
    data:[[30,.842]],label:{show:true,formatter:'n=30 (0.842)',position:'left',distance:2,color:'#f33',fontSize:13,fontFamily:FF}});
})();

/* ---- F ---- */
(function(){
  const p=addPanel([732.4,868.3,1013.6,1114.7],
    {range:[-16,521],ticks:[0,100,200,300,400,500],fs:10,margin:12,tickLen:5,name:'trees',nameGap:36,nameFs:9.5},
    {range:[.0383,.654],ticks:[.1,.2,.3,.4,.5,.6],fmt:dec(1),fs:9.5,rot:90,margin:14,tickLen:5,name:'Error',nameGap:37,nameFs:9},FRAME);
  addLine(p,rfTrees.map((x,i)=>[x,rfControl[i]]),'#50d650',1.1,{lineStyle:{color:'#50d650',width:1.1,type:[1,2]}});
  addLine(p,rfTrees.map((x,i)=>[x,rfTreat[i]]),'#df3a56',1.3,{lineStyle:{color:'#df3a56',width:1.3,type:[4,3]}});
  addLine(p,rfTrees.map((x,i)=>[x,rfOOB[i]]),'#111',1.4);
  text(873,845,'Random forest',{fs:11.5,w:'bold'});
})();

/* ---- G lollipop ---- */
(function(){
  const yTicks=impGenes.map((g,i)=>i+1);
  const p=addPanel([314.2,1202,573,1556.4],
    {range:[-.27,6.2],ticks:[0,2,4,6],fs:11,margin:6,tickLen:3,split:true,color:'#777',lw:.1,tw:.8,labelColor:'#333',name:'Importance',nameGap:18,nameFs:13},
    {range:[.4,30.6],inverse:true,ticks:yTicks,label:false,tickLen:3,split:true,color:'#777',lw:.1,tw:.8},'#889');
  series.push({type:'custom',xAxisIndex:p.xAxisIndex,yAxisIndex:p.yAxisIndex,silent:true,clip:false,
    data:impValues.map((v,i)=>[v,i+1]),
    renderItem:(params,api)=>{
      const a=api.coord([0,api.value(1)]),b=api.coord([api.value(0),api.value(1)]);
      return {type:'line',shape:{x1:a[0],y1:a[1],x2:b[0],y2:b[1]},style:{stroke:'#b8bdbd',lineWidth:3.5}};
    }});
  const si=series.length;
  series.push({type:'scatter',xAxisIndex:p.xAxisIndex,yAxisIndex:p.yAxisIndex,silent:true,symbolSize:12,z:4,data:impValues.map((v,i)=>[v,i+1])});
  series.push({type:'scatter',xAxisIndex:p.xAxisIndex,yAxisIndex:p.yAxisIndex,silent:true,symbolSize:1,clip:false,itemStyle:{color:'transparent'},
    data:impGenes.map((g,i)=>({value:[-.27,i+1],label:{show:true,formatter:g,position:'left',distance:6,color:'#333',fontSize:11.5,fontFamily:FF}}))});
  window.__vm={type:'continuous',min:1.66,max:5.92,seriesIndex:si,dimension:0,left:593,top:1335.7,itemWidth:21,itemHeight:106.7,padding:0,calculable:false,realtime:false,hoverLink:false,text:null,showLabel:false,
    inRange:{color:['#0e8b90','#566f6c','#7d6557','#9a4a3c','#b5151f']},textStyle:{fontSize:0}};
  text(627,1323.6,'Importance',{fs:13.5,c:'#333'});
  [[5,1358.7],[4,1383.8],[3,1409],[2,1434]].forEach(t=>text(624,t[1],String(t[0]),{fs:11,c:'#333'}));
})();

/* ---- H Venn ---- */
(function(){
  const p=addPanel([691.2,1250.7,1065.8,1500.9],
    {range:[-1,2],ticks:[],line:false,tick:false,label:false},{range:[-1,1],ticks:[],line:false,tick:false,label:false});
  const arc=(c,from,to)=>{const o=[];for(let i=0;i<=48;i++){const t=from+(to-from)*i/48;o.push([c[0]+c[2]*Math.cos(t),c[1]+c[2]*Math.sin(t)]);}return o;};
  const circle=c=>arc(c,0,Math.PI*2);
  const lens=(A,B)=>{const dx=B[0]-A[0],dy=B[1]-A[1],d=Math.hypot(dx,dy);
    const a=Math.acos((d*d+A[2]*A[2]-B[2]*B[2])/(2*d*A[2])),b=Math.acos((d*d+B[2]*B[2]-A[2]*A[2])/(2*d*B[2]));
    const ba=Math.atan2(dy,dx),bb=Math.atan2(-dy,-dx);
    return arc(A,ba-a,ba+a).concat(arc(B,bb-b,bb+b));};
  const regions=[[circle(vennRF),'#78ff82'],[circle(vennSVM),'#7080ff'],[lens(vennRF,vennSVM),'#2581c0'],[circle(vennLASSO),'#bc4580'],[lens(vennRF,vennLASSO),'#8e3f5e']];
  const outlines=[circle(vennRF),circle(vennSVM),circle(vennLASSO)];
  series.push({type:'custom',xAxisIndex:p.xAxisIndex,yAxisIndex:p.yAxisIndex,silent:true,clip:false,data:[[0,0]],
    renderItem:(params,api)=>{
      const px=a=>a.map(q=>api.coord(q));
      return {type:'group',children:regions.map(r=>({type:'polygon',shape:{points:px(r[0])},style:{fill:r[1]}}))
        .concat(outlines.map(o=>({type:'polygon',shape:{points:px(o)},style:{fill:'none',stroke:'#000',lineWidth:1.3}})))};
    }});
  const S='Liberation Serif';
  text(722.7,1269,'RF',{ff:S,fs:13,c:'#111'});text(1028,1268.5,'SVM',{ff:S,fs:13,c:'#111'});text(941,1463,'LASSO',{ff:S,fs:13,c:'#111'});
  [753.6,847,910,971.8,1034.8].forEach((x,i)=>text(x,1376.5,vennCounts[i],{ff:S,fs:11.5,c:'#111'}));
})();

/* ---- I, K violins ---- */
const VC='#214f92',VT='#ee0a00';
function violinRender(shape,box,outs,pos,fill){
  return (params,api)=>{
    const P=(x,y)=>api.coord([x,y]);
    const right=shape.map(s=>P(pos+s[1],s[0]));
    const left=shape.slice(1,-1).reverse().map(s=>P(pos-s[1],s[0]));
    const bw=.1, a=P(pos-bw,box[3]), b=P(pos+bw,box[1]), m1=P(pos-bw,box[2]), m2=P(pos+bw,box[2]), w1=P(pos,box[0]), w2=P(pos,box[4]);
    const kids=[{type:'polygon',shape:{points:right.concat(left),smooth:.4},style:{fill:fill,stroke:'#10202a',lineWidth:.9}},
      {type:'line',shape:{x1:w1[0],y1:w1[1],x2:w2[0],y2:w2[1]},style:{stroke:'#000',lineWidth:1}},
      {type:'rect',shape:{x:a[0],y:a[1],width:b[0]-a[0],height:b[1]-a[1]},style:{fill:'#fff',stroke:'#222',lineWidth:1}},
      {type:'line',shape:{x1:m1[0],y1:m1[1],x2:m2[0],y2:m2[1]},style:{stroke:'#000',lineWidth:2}}];
    outs.forEach(v=>{const c=P(pos,v);kids.push({type:'circle',shape:{cx:c[0],cy:c[1],r:1.6},style:{fill:'#000'}});});
    return {type:'group',children:kids};
  };
}
function violinPanel(o){
  const p=addPanel(o.rect,
    {range:[.4,2.6],ticks:[1,2],fs:11,margin:4,tickLen:3,fmt:v=>groupNames[v-1],color:'#3f4a4a',lw:1.5,tw:1},
    {range:o.yr,ticks:o.ticks,fs:11,margin:3,tickLen:2.5,fmt:dec(o.d),name:o.gene+' expression',nameGap:o.gap,nameFs:10.5,color:'#3f4a4a',lw:1.5,tw:1});
  [[o.c,0,VC,1],[o.t,1,VT,2]].forEach(q=>{
    series.push({type:'custom',name:groupNames[q[1]],xAxisIndex:p.xAxisIndex,yAxisIndex:p.yAxisIndex,silent:true,clip:false,itemStyle:{color:q[2]},
      data:[[q[3],o.box[q[1]][2]]],renderItem:violinRender(q[0],o.box[q[1]],o.out[q[1]],q[3],q[2])});
  });
  const tip=(o.yr[1]-o.yr[0])*.008, sigY=o.sig;
  series.push({type:'custom',xAxisIndex:p.xAxisIndex,yAxisIndex:p.yAxisIndex,silent:true,clip:false,z:3,data:[[1.5,sigY]],
    renderItem:(params,api)=>{
      const a=api.coord([1,sigY-tip]),b=api.coord([1,sigY]),c=api.coord([2,sigY]),d=api.coord([2,sigY-tip]);
      return {type:'polyline',shape:{points:[a,b,c,d]},style:{fill:'none',stroke:'#6a7272',lineWidth:1.5}};
    }});
  labelPoint(p,1.5,o.sig,o.stars,'#111',9,[0,-7],{z:4});
  legends.push({left:o.leg[0],top:o.leg[1]-7,orient:'horizontal',padding:0,itemGap:3,itemWidth:14.5,itemHeight:14,selectedMode:false,
    data:groupNames.map(n=>({name:n,icon:'rect'})),textStyle:{fontSize:10,fontFamily:FF,color:'#333',padding:[0,0,0,-1]}});
}
[
 {gene:'ALDH3A1',rect:[1137.5,237.4,1407.4,442.5],yr:[6.895,16.3],ticks:[8,10,12,14,16],d:0,c:ALDH3A1C,t:ALDH3A1T,box:boxALDH3A1,out:outALDH3A1,sig:15.14,stars:'***',leg:[1229.5,214.4],gap:20},
 {gene:'CLDN10',rect:[1446.5,237.4,1719.4,444.8],yr:[6.055,11.28],ticks:[7,8,9,10,11],d:0,c:CLDN10C,t:CLDN10T,box:boxCLDN10,out:outCLDN10,sig:10.62,stars:'***',leg:[1539.7,214.4],gap:20},
 {gene:'FOSB',rect:[1768,237.4,2033,446.7],yr:[1.117,12.755],ticks:[2.5,5,7.5,10,12.5],d:1,c:FOSBC,t:FOSBT,box:boxFOSB,out:outFOSB,sig:11,stars:'***',leg:[1857,214.4],gap:29},
 {gene:'HRASLS2',rect:[2073.7,237.4,2345.5,444.8],yr:[4.84,12.75],ticks:[5,7,9,11],d:0,c:HRASLS2C,t:HRASLS2T,box:boxHRASLS2,out:outHRASLS2,sig:11.92,stars:'***',leg:[2166,214.4],gap:21},
 {gene:'IL1R2',rect:[2394.7,237.4,2658.9,446.7],yr:[2.875,11.42],ticks:[5,7.5,10],d:1,c:IL1R2C,t:IL1R2T,box:boxIL1R2,out:outIL1R2,sig:10.6,stars:'***',leg:[2483.7,214.4],gap:28},
 {gene:'MUC1',rect:[1138.7,516,1413.9,725.7],yr:[6.92,13.315],ticks:[7,8,9,10,11,12,13],d:0,c:MUC1C,t:MUC1T,box:boxMUC1,out:outMUC1,sig:12.54,stars:'***',leg:[1232.4,492.7],gap:20},
 {gene:'MUC4',rect:[1452.5,516,1728.9,727.3],yr:[5.515,12.75],ticks:[6,8,10,12],d:0,c:MUC4C,t:MUC4T,box:boxMUC4,out:outMUC4,sig:11.91,stars:'***',leg:[1546.2,492.7],gap:20},
 {gene:'SERPINF1',rect:[1772.8,520.6,2039,729.2],yr:[7.59,14.88],ticks:[10,12.5],d:1,c:SERPINF1C,t:SERPINF1T,box:boxSERPINF1,out:outSERPINF1,sig:14.05,stars:'***',leg:[1863,497.3],gap:28},
 {gene:'SRPX2',rect:[2078,516,2356.5,728.4],yr:[3.47,10.02],ticks:[4,6,8,10],d:0,c:SRPX2C,t:SRPX2T,box:boxSRPX2,out:outSRPX2,sig:9.41,stars:'***',leg:[2174,492.7],gap:20},
 {gene:'TFF3',rect:[2400,516,2668.9,727.3],yr:[4.68,15.68],ticks:[5,7.5,10,12.5,15],d:1,c:TFF3C,t:TFF3T,box:boxTFF3,out:outTFF3,sig:14.12,stars:'***',leg:[2490,492.7],gap:28},
 {gene:'IL1R2',rect:[220.9,1636.7,488.8,1838.7],yr:[2.146,14.07],ticks:[5,10],d:0,c:kIL1R2C,t:kIL1R2T,box:boxKIL1R2,out:outKIL1R2,sig:11.32,stars:'**',leg:[312.4,1613],gap:19},
 {gene:'SRPX2',rect:[527,1636.7,794.8,1839.7],yr:[4.165,10.08],ticks:[6,8,10],d:0,c:kSRPX2C,t:kSRPX2T,box:boxKSRPX2,out:outKSRPX2,sig:8.87,stars:'*',leg:[618,1613],gap:20},
 {gene:'TFF3',rect:[833.6,1636.7,1101,1840.7],yr:[5.58,11.44],ticks:[6,7,8,9,10,11],d:0,c:kTFF3C,t:kTFF3T,box:boxKTFF3,out:outKTFF3,sig:10.87,stars:'**',leg:[925,1613],gap:20}
].forEach(violinPanel);

/* ---- J, L ROC ---- */
function rocPanel(o){
  const xr=[-.085,1.085],yr=[-.036,1.036],t=[0,.2,.4,.6,.8,1];
  const p=addPanel(o.rect,
    {range:xr,ticks:t,fmt:dec(1),fs:11,margin:15,tickLen:5,name:'1 - Specificity',nameGap:35,nameFs:11},
    {range:yr,ticks:t,fmt:dec(1),fs:10.5,rot:90,margin:14,tickLen:5,name:'Sensitivity',nameGap:35,nameFs:10.5},FRAME);
  addLine(p,[[-.085,-.085],[1.085,1.085]],'#9a9a9a',.9);
  addLine(p,o.curve,'#f01010',o.lw,o.step?{step:'end'}:{});
  const bx=1-o.spec;
  series.push({type:'scatter',xAxisIndex:p.xAxisIndex,yAxisIndex:p.yAxisIndex,silent:true,symbolSize:4.5,z:5,itemStyle:{color:'#000'},data:[[bx,o.sens]],
    label:{show:true,position:'inside',align:'left',verticalAlign:'middle',offset:[6,7],formatter:o.cut+' ('+o.spec.toFixed(3)+', '+o.sens.toFixed(3)+')',fontSize:11,fontFamily:FF,color:'#000'}});
  labelPoint(p,.633,.48,'AUC: '+o.auc,'#f02020',11);
  labelPoint(p,.61,.43,'95% CI: '+o.ci,'#f02020',11);
  text((o.rect[0]+o.rect[2])/2,o.rect[1]-14,o.gene,{fs:12,w:'bold',c:'#111'});
}
const jRects=[[1154.1,857.3,1407.4,1089.6],[1468.5,857.3,1724.1,1092.9],[1785.8,857.3,2041.6,1092],[2102.4,857.3,2359.3,1092.9],[2419.6,857.8,2675.6,1093.3],[1155.3,1165.9,1416.9,1405.5],[1469,1170.4,1726.5,1406.3],[1784.6,1170,2045.5,1409.6],[2099,1171.6,2360.8,1412],[2419.6,1172,2676.6,1407]];
[rocALDH3A1,rocCLDN10,rocFOSB,rocHRASLS2,rocIL1R2,rocMUC1,rocMUC4,rocSERPINF1,rocSRPX2,rocTFF3].forEach((c,i)=>rocPanel({rect:jRects[i],gene:jGenes[i],curve:c,step:true,lw:1.4,spec:jSpec[i],sens:jSens[i],cut:jCut[i],auc:jAuc[i],ci:jCI[i]}));
const lRects=[[1171.9,1592,1427,1826.7],[1488,1592,1743,1826.7],[1804.2,1592,2057.4,1825.3],[2118.7,1592,2371.8,1825.3],[2432.5,1591.7,2687,1825.7]];
[rocLFOSB,rocLIL1R2,rocLMUC4,rocLSRPX2,rocLTFF3].forEach((c,i)=>rocPanel({rect:lRects[i],gene:lGenes[i],curve:c,step:false,lw:1.8,spec:lSpec[i],sens:lSens[i],cut:lCut[i],auc:lAuc[i],ci:lCI[i]}));

const chart=echarts.init(document.getElementById('c'),null,{renderer:'canvas',width:2924,height:2067});
chart.setOption({animation:false,backgroundColor:'#fff',grid:grids,xAxis:xAxes,yAxis:yAxes,series:series,legend:legends,visualMap:[window.__vm],graphic:{elements:graphics},tooltip:{show:false}});
</script></body></html>
